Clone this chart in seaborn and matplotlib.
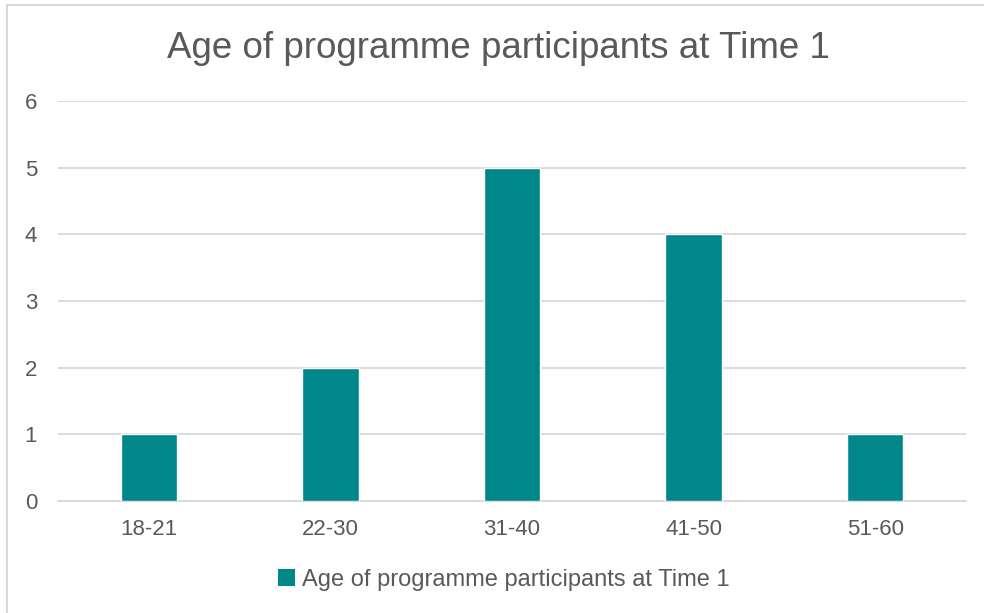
import matplotlib.pyplot as plt
import seaborn as sns
import pandas as pd
from matplotlib.lines import Line2D
from matplotlib.patches import Patch

age_groups = ['18-21', '22-30', '31-40', '41-50', '51-60']
participants = [1, 2, 5, 4, 1]
series_name = 'Age of programme participants at Time 1'

df = pd.DataFrame({'Age group': age_groups, 'Participants': participants})

bar_color = '#00878A'
text_color = '#595959'
grid_color = '#D9D9D9'

sns.set_style('white')
plt.rcParams['font.family'] = ['Liberation Sans', 'DejaVu Sans']

fig = plt.figure(figsize=(9.84, 6.13), dpi=100)
ax = fig.add_axes([58 / 984, 112 / 613, 908 / 984, 400 / 613])

sns.barplot(data=df, x='Age group', y='Participants', color=bar_color,
            width=0.31, ax=ax, zorder=3, saturation=1)

ax.set_xlim(-0.5, 4.5)
ax.set_ylim(0, 6)
ax.set_yticks(range(0, 7))
ax.grid(axis='y', color=grid_color, linewidth=1.3, zorder=0)
ax.set_axisbelow(True)
for side in ['top', 'right', 'left']:
    ax.spines[side].set_visible(False)
ax.spines['bottom'].set_color(grid_color)
ax.spines['bottom'].set_linewidth(1.3)
ax.tick_params(axis='both', length=0, labelsize=16, colors=text_color)
ax.tick_params(axis='x', pad=13)
ax.tick_params(axis='y', pad=15)
ax.set_xlabel('')
ax.set_ylabel('')

fig.text(498 / 984, 1 - 48 / 613, series_name, ha='center', va='center',
         fontsize=26.5, color=text_color)

handle = Patch(facecolor=bar_color, edgecolor='none')
fig.legend([handle], [series_name], loc='center', bbox_to_anchor=(504 / 984, 1 - 580 / 613),
           frameon=False, fontsize=17, labelcolor=text_color,
           handlelength=0.7, handleheight=0.7, handletextpad=0.3)

# outer chart border
fig.add_artist(Line2D([7 / 984, 7 / 984], [0, 1 - 5 / 613], color=grid_color, lw=1.5))
fig.add_artist(Line2D([7 / 984, 1], [1 - 5 / 613, 1 - 5 / 613], color=grid_color, lw=1.5))

fig.savefig('out.png', dpi=100)
